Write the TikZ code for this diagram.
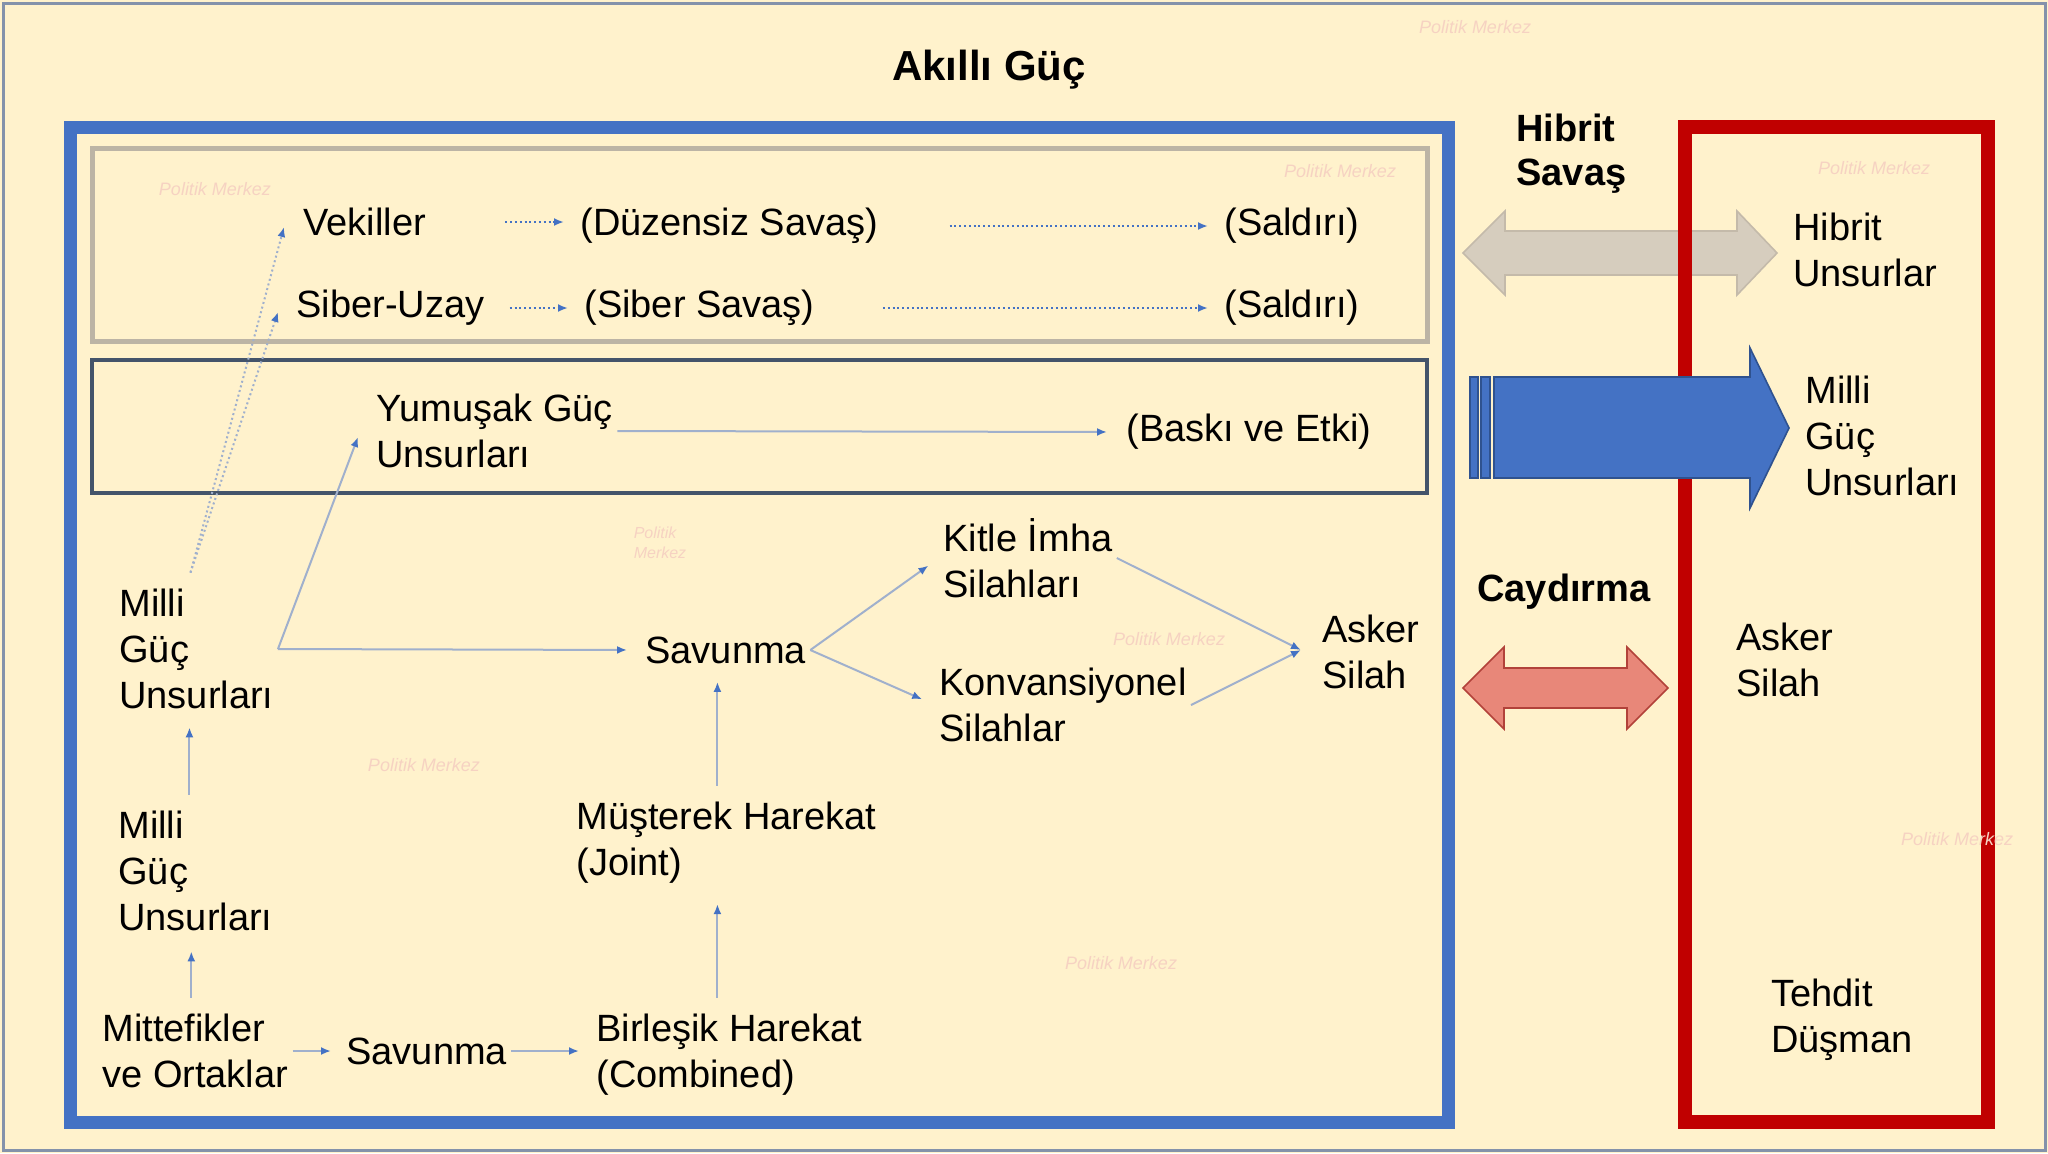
\documentclass[tikz,border=0pt]{standalone}
\usepackage{fontspec}
\setmainfont{Liberation Sans}
\usepackage{pgf,tikz}
\usetikzlibrary{calc}
\usetikzlibrary{arrows.meta}

\definecolor{bgcream}{RGB}{255,242,204}
\definecolor{frameblue}{RGB}{132,146,170}
\definecolor{boxgrey}{RGB}{188,180,165}
\definecolor{boxslate}{RGB}{68,84,106}
\definecolor{powerblue}{RGB}{68,114,196}
\definecolor{threatred}{RGB}{192,0,0}
\definecolor{linkgrey}{RGB}{160,176,204}
\definecolor{tipblue}{RGB}{68,114,196}
\definecolor{hybridfill}{RGB}{214,205,190}
\definecolor{hybriddraw}{RGB}{196,186,170}
\definecolor{deterfill}{RGB}{232,135,121}
\definecolor{deterdraw}{RGB}{178,66,58}
\definecolor{arrowedge}{RGB}{47,82,143}
\definecolor{wmpink}{RGB}{246,210,194}

\begin{document}
\begin{tikzpicture}[x=0.5pt, y=-0.5pt,
  txt/.style = {anchor=west, align=left, inner xsep=2pt, inner ysep=8pt,
    font=\fontsize{19}{23}\selectfont},
  heading/.style = {anchor=west, align=left, inner sep=2pt,
    font=\fontsize{19}{22}\selectfont\bfseries},
  watermark/.style = {text=wmpink, inner sep=0pt, align=left,
    font=\fontsize{9}{10}\selectfont\itshape},
  conn/.style = {draw=linkgrey, line width=1pt,
    -{Latex[length=5pt, width=4pt, color=tipblue]}},
  dotconn/.style = {conn, dash pattern=on 1pt off 1.4pt},
  bigarrow/.style = {line width=0.8pt, line join=miter}]

  % page and frames
  \useasboundingbox (0,0) rectangle (2048,1153);
  \fill[bgcream] (0,0) rectangle (2048,1153);
  \draw[frameblue, line width=1.5pt] (3,3) rectangle (2045,1150);
  \draw[boxgrey, line width=2.5pt] (92,148) rectangle (1427,341);
  \draw[boxslate, line width=2pt] (92,360) rectangle (1427,493);
  \draw[powerblue, line width=6.5pt] (70,127) rectangle (1448,1122);

  % hybrid arrow sits under the red frame
  \filldraw[bigarrow, fill=hybridfill, draw=hybriddraw]
    (1463,253) -- (1505,211) -- (1505,231) -- (1737,231) -- (1737,211)
    -- (1777,253) -- (1737,295) -- (1737,275) -- (1505,275) -- (1505,295) -- cycle;
  \draw[threatred, line width=7pt] (1685,127) rectangle (1988,1122);

  % striped arrow towards the enemy
  \filldraw[bigarrow, fill=powerblue, draw=arrowedge] (1470,377) rectangle (1478,478);
  \filldraw[bigarrow, fill=powerblue, draw=arrowedge] (1481,377) rectangle (1490,478);
  \filldraw[bigarrow, fill=powerblue, draw=arrowedge]
    (1494,377) -- (1750,377) -- (1750,348) -- (1789,428) -- (1750,508)
    -- (1750,478) -- (1494,478) -- cycle;

  % deterrence arrow
  \filldraw[bigarrow, fill=deterfill, draw=deterdraw]
    (1463,688) -- (1504,647) -- (1504,668) -- (1627,668) -- (1627,647)
    -- (1668,688) -- (1627,729) -- (1627,708) -- (1504,708) -- (1504,729) -- cycle;

  % watermarks
  \node[watermark] (wm1) at (1475,27) {Politik Merkez};
  \node[watermark] (wm2) at (215,189) {Politik Merkez};
  \node[watermark] (wm3) at (1340,171) {Politik Merkez};
  \node[watermark] (wm4) at (1874,168) {Politik Merkez};
  \node[watermark, font=\fontsize{8}{10}\selectfont\itshape] (wm5) at (660,543) {Politik\\Merkez};
  \node[watermark] (wm6) at (1169,639) {Politik Merkez};
  \node[watermark] (wm7) at (424,765) {Politik Merkez};
  \node[watermark] (wm8) at (1957,839) {Politik Merkez};
  \node[watermark] (wm9) at (1121,963) {Politik Merkez};

  % headings
  \node[font=\fontsize{21}{25}\selectfont\bfseries, inner sep=2pt] (title) at (989,70) {Akıllı Güç};
  \node[heading] (hibsav) at (1512,154) {Hibrit\\Savaş};
  \node[heading] (cayd) at (1473,592) {Caydırma};

  % hybrid rows
  \node[txt] (vek) at (299,222) {Vekiller};
  \node[txt] (duz) at (576,226) {(Düzensiz Savaş)};
  \node[txt] (sal1) at (1220,226) {(Saldırı)};
  \node[txt] (siber) at (292,308) {Siber-Uzay};
  \node[txt] (sibsav) at (580,308) {(Siber Savaş)};
  \node[txt] (sal2) at (1220,308) {(Saldırı)};

  % soft power row
  \node[txt] (yum) at (372,431) {Yumuşak Güç\\Unsurları};
  \node[txt] (baski) at (1122,432) {(Baskı ve Etki)};

  % own side
  \node[txt] (mgu1) at (115,649) {Milli\\Güç\\Unsurları};
  \node[txt] (mgu2) at (114,871) {Milli\\Güç\\Unsurları};
  \node[txt] (mitt) at (98,1051) {Mittefikler\\ve Ortaklar};
  \node[txt] (sav2) at (342,1051) {Savunma};
  \node[txt] (birl) at (592,1055) {Birleşik Harekat\\(Combined)};
  \node[txt] (must) at (572,843) {Müşterek Harekat\\(Joint)};
  \node[txt] (sav1) at (641,650) {Savunma};
  \node[txt] (kitle) at (939,558) {Kitle İmha\\Silahları};
  \node[txt] (konv) at (935,705) {Konvansiyonel\\Silahlar};
  \node[txt] (asker1) at (1318,652) {Asker\\Silah};

  % threat side
  \node[txt] (hibu) at (1789,250) {Hibrit\\Unsurlar};
  \node[txt] (mgu3) at (1801,436) {Milli\\Güç\\Unsurları};
  \node[txt] (asker2) at (1732,660) {Asker\\Silah};
  \node[txt] (tehdit) at (1767,1020) {Tehdit\\Düşman};

  % connectors
  \draw[dotconn, draw=tipblue, shorten <=37.5pt, shorten >=6pt] (vek) -- (vek -| duz.west);
  \draw[dotconn, draw=tipblue, shorten <=33.5pt, shorten >=6pt] (duz) -- (sal1);
  \draw[dotconn, draw=tipblue, shorten <=10.5pt, shorten >=6pt] (siber) -- (sibsav);
  \draw[dotconn, draw=tipblue, shorten <=32pt, shorten >=6pt] (sibsav) -- (sal2);
  \draw[dotconn] ([xshift=-3pt]mgu1.north) -- ($(vek.west)+(-15,5)$);
  \draw[dotconn] ([xshift=-3pt]mgu1.north) -- ($(siber.west)+(-14,4)$);
  \draw[conn] (mgu1.east) -- ($(yum.west)+(-14,6)$);
  \draw[conn, shorten >=7pt] (mgu1.east) -- (sav1.west);
  \draw[conn, shorten >=7.5pt] (yum.east) -- (baski.west);
  \draw[conn, shorten >=6.5pt] (sav1.east) -- (kitle.west);
  \draw[conn, shorten >=7pt] (sav1.east) -- (konv.west);
  \draw[conn] (kitle.east) -- ($(asker1.west)+(-17,-2)$);
  \draw[conn] (konv.east) -- ($(asker1.west)+(-17,-2)$);
  \draw[conn, shorten >=5.5pt] (mitt) -- (sav2);
  \draw[conn, shorten >=6.5pt] (sav2) -- (sav2 -| birl.west);
  \draw[conn, shorten >=2pt] ([xshift=-2pt]mitt.north) -- ([xshift=-2pt]mitt.north |- mgu2.south);
  \draw[conn, shorten >=1pt] ([xshift=-3pt]mgu2.north) -- ([xshift=-3pt]mgu2.north |- mgu1.south);
  \draw[conn, shorten >=2pt] ([xshift=-6pt]birl.north) -- ([xshift=-6pt]birl.north |- must.south);
  \draw[conn, shorten >=1pt] ([xshift=-6pt]birl.north |- must.north) -- ([xshift=-6pt]birl.north |- sav1.south);
\end{tikzpicture}
\end{document}
